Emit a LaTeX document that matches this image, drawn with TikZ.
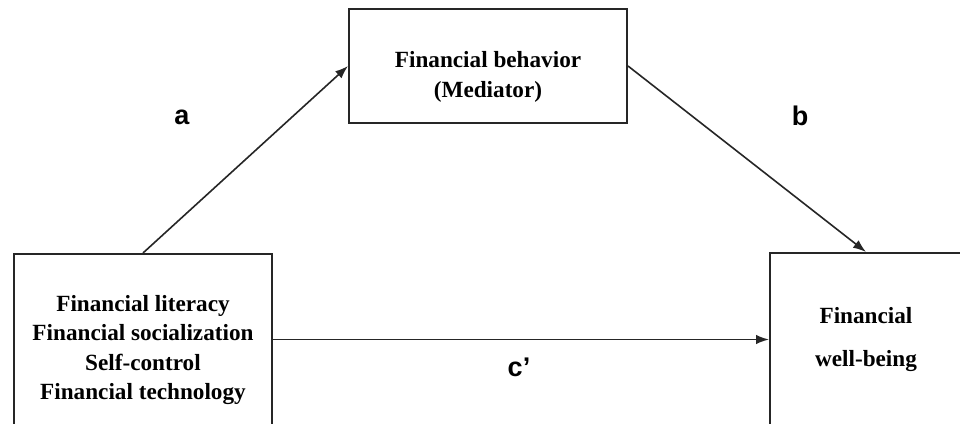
\documentclass[tikz,border=0pt]{standalone}
\usepackage{fontspec}
\setmainfont{Liberation Serif}
\newfontfamily\labelfont{Liberation Sans}
\usetikzlibrary{arrows.meta}
\begin{document}
\begin{tikzpicture}[x=1pt,y=1pt,
  boxstyle/.style={draw=black!85, line width=2pt, rectangle, align=center, inner sep=0pt},
  boxtext/.style={align=center, inner sep=0pt},
  arrowstyle/.style={draw=black!85, line width=1.6pt, -{Latex[length=13pt,width=9.5pt]}},
  pathlabel/.style={font=\labelfont\bfseries\fontsize{27}{30}\selectfont}]
\clip (0,0) rectangle (960,-423);
\fill[white] (0,0) rectangle (960,-423);
\node[boxstyle, minimum width=278pt, minimum height=114pt] (med) at (488,-66) {};
\node[boxtext, font=\bfseries\fontsize{23.2}{30}\selectfont] (medtxt)
  at ([yshift=-11pt]med.center) {Financial behavior\\(Mediator)};
\node[boxstyle, minimum width=258pt, minimum height=192pt,
  font=\bfseries\fontsize{23.2}{29.5}\selectfont] (ind) at (143,-350)
  {Financial literacy\\Financial socialization\\Self-control\\Financial technology};
\node[boxstyle, minimum width=192pt, minimum height=173pt,
  font=\bfseries\fontsize{23.2}{43}\selectfont] (dep) at (866,-339.5)
  {Financial\\well-being};
\draw[arrowstyle] (ind.north) -- (med.west);
\draw[arrowstyle] (med.east) -- (dep.north);
\draw[arrowstyle] (ind.east |- dep.west) -- (dep.west);
\node[pathlabel] (la) at (182,-117) {a};
\node[pathlabel] (lb) at (800,-116) {b};
\node[pathlabel] (lc) at (519,-367) {c’};
\end{tikzpicture}
\end{document}
